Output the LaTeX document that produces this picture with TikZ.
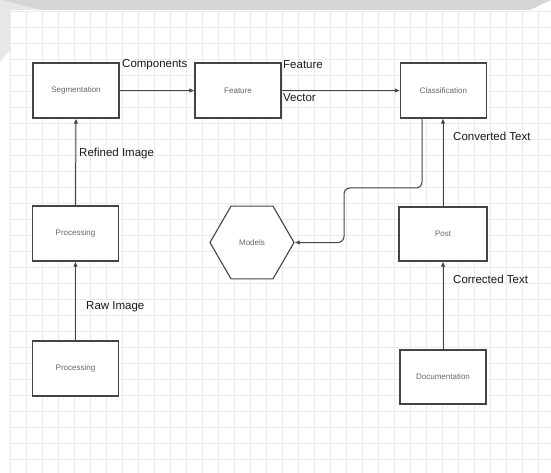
\documentclass[tikz,border=0pt]{standalone}
\usepackage{fontspec}
\setmainfont{Liberation Sans}
\usetikzlibrary{shapes.geometric,arrows.meta}
\definecolor{edge}{HTML}{444444}
\definecolor{band}{HTML}{D6D6D6}
\definecolor{gridc}{HTML}{EBEBEB}
\tikzset{
  procbox/.style={draw=edge, line width=1.1pt, fill=white, minimum width=86pt, minimum height=55pt,
    inner sep=0pt, font=\fontsize{8}{9}\selectfont, text=black!60},
  hexbox/.style={draw=edge, line width=1.1pt, fill=white, regular polygon, regular polygon sides=6,
    minimum size=84pt, inner sep=0pt, font=\fontsize{8}{9}\selectfont, text=black!60},
  flow/.style={draw=edge, line width=1pt, -{Latex[length=5pt,width=4.5pt]}},
  lbl/.style={font=\fontsize{11.5}{13}\selectfont, text=black!90, inner sep=0pt, anchor=west},
  gridline/.style={draw=gridc, line width=0.5pt}
}
\begin{document}
\begin{tikzpicture}[x=1pt,y=-1pt]
\useasboundingbox (0,0) rectangle (551,473);
\fill[white] (0,0) rectangle (551,473);
% faint grid
\foreach \gx in {10,26,...,550} {\draw[gridline] (\gx,11) -- (\gx,473);}
\foreach \gy in {11,27,...,472} {\draw[gridline] (10,\gy) -- (551,\gy);}
% top grey band
\fill[band] (0,0) -- (551,0) -- (530,10) -- (40,10) -- cycle;
\fill[band!60] (0,0) -- (40,10) -- (10,10) -- (10,50) -- (0,62) -- cycle;

% nodes
\node[procbox] (seg) at (76,90.5) {Segmentation};
\node[procbox] (feat) at (238,90.5) {Feature};
\node[procbox] (cls) at (443.5,90.5) {Classification};
\node[procbox] (proc1) at (75.5,233.5) {Processing};
\node[hexbox] (models) at (252,242.5) {Models};
\node[procbox, minimum width=88pt, minimum height=54pt] (post) at (443,234) {Post};
\node[procbox] (proc2) at (75.5,368.5) {Processing};
\node[procbox, minimum height=54pt] (doc) at (443,377) {Documentation};

% connectors
\draw[flow] (seg.east) -- (feat.west);
\draw[flow] (feat.east) -- (cls.west);
\draw[flow] (proc1.north) -- (seg.south);
\draw[flow] (proc2.north) -- (proc1.north |- proc1.south);
\draw[flow] (doc.north) -- (doc.north |- post.south);
\draw[flow] (post.north) -- (post.north |- cls.south);
\coordinate (c1) at (422,188);
\coordinate (c2) at (344,188);
\coordinate (c3) at (344,242.5);
\draw[flow, rounded corners=6pt] (cls.south -| c1) -- (c1) -- (c2) -- (c3) -- (models.east);

% labels
\node[lbl] (lcomp) at (122,65) {Components};
\node[lbl] (lfeat) at (283,65) {Feature};
\node[lbl] (lvec) at (283,98) {Vector};
\node[lbl] (lref) at (79,154) {Refined Image};
\node[lbl] (lraw) at (86,307) {Raw Image};
\node[lbl] (lconv) at (453,136) {Converted Text};
\node[lbl] (lcorr) at (453,279) {Corrected Text};
\end{tikzpicture}
\end{document}
